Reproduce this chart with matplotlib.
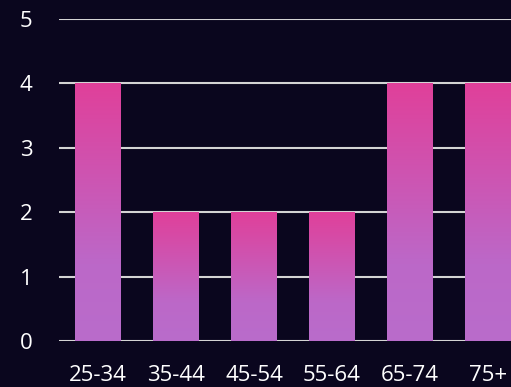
import matplotlib

matplotlib.use("Agg")
import matplotlib.pyplot as plt
import numpy as np
from matplotlib.colors import LinearSegmentedColormap

age_groups = ["25-34", "35-44", "45-54", "55-64", "65-74", "75+"]
counts = [4, 2, 2, 2, 4, 4]
y_ticks = [0, 1, 2, 3, 4, 5]

BG = "#0a061e"
TOP = "#e0409a"
BOTTOM = "#b96ccb"

plt.rcParams["font.family"] = ["Open Sans", "DejaVu Sans"]

fig = plt.figure(figsize=(5.11, 3.87), dpi=100, facecolor=BG)
ax = fig.add_axes([59 / 511, 46 / 387, 468 / 511, 322 / 387], facecolor=BG)

x = np.arange(len(age_groups))
bars = ax.bar(x, counts, width=46 / 78, color="none", zorder=3)

# vertical gradient per bar: purple at the base, pink at the top
cmap = LinearSegmentedColormap.from_list("bar", [(0, BOTTOM), (0.3, "#bc68c8"), (1, TOP)])
grad = np.linspace(0, 1, 256).reshape(-1, 1)
for b in bars:
    x0, y0 = b.get_x(), b.get_y()
    w, h = b.get_width(), b.get_height()
    im = ax.imshow(grad, extent=[x0, x0 + w, y0, y0 + h], origin="lower",
                   cmap=cmap, aspect="auto", zorder=3)
    im.set_clip_path(b)

ax.set_xlim(-0.5, len(age_groups) - 0.5)
ax.set_ylim(0, 5)
ax.set_yticks(y_ticks)
ax.set_xticks(x)
ax.set_xticklabels(age_groups)
ax.yaxis.grid(True, color="#d4d4d4", lw=1.5, zorder=1)
ax.set_axisbelow(True)
for s in ax.spines.values():
    s.set_visible(False)
ax.tick_params(length=0, colors="white", labelsize=16)
ax.tick_params(axis="y", pad=19)
ax.tick_params(axis="x", pad=17)

fig.savefig("out.png", facecolor=BG)
